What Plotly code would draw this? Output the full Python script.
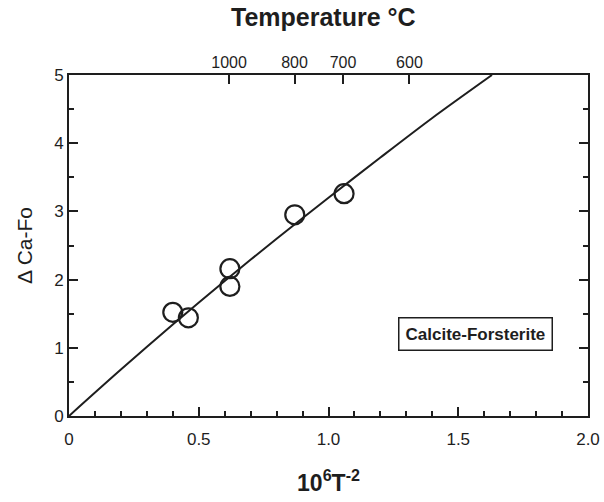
import plotly.graph_objects as go

# Data
pts_x = [0.40, 0.46, 0.62, 0.62, 0.87, 1.06]
pts_y = [1.52, 1.44, 2.16, 1.90, 2.95, 3.26]

line_x = [0, 0.2, 0.4, 0.6, 0.8, 1.0, 1.2, 1.4, 1.63]
line_y = [0, 0.68, 1.34, 1.98, 2.60, 3.20, 3.79, 4.37, 5.0]

x_tickvals = [0, 0.5, 1.0, 1.5, 2.0]
x_ticktext = ["0", "0.5", "1.0", "1.5", "2.0"]

temp_pos = [0.617, 0.869, 1.056, 1.312]
temp_labels = ["1000", "800", "700", "600"]

INK = "#1e1e1e"
FONT = "Liberation Sans, Arial, sans-serif"

fig = go.Figure()

fig.add_trace(go.Scatter(
    x=line_x, y=line_y, mode="lines",
    line=dict(color=INK, width=2, shape="spline", smoothing=0.8),
    hoverinfo="skip", showlegend=False))

fig.add_trace(go.Scatter(
    x=pts_x, y=pts_y, mode="markers",
    marker=dict(symbol="circle-open", size=19, color=INK, line=dict(width=2.2, color=INK)),
    showlegend=False))

# invisible trace to carry the top temperature axis
fig.add_trace(go.Scatter(
    x=temp_pos, y=[None] * len(temp_pos), xaxis="x2", mode="markers",
    marker=dict(opacity=0), hoverinfo="skip", showlegend=False))

fig.update_layout(
    width=604, height=502,
    margin=dict(l=69, r=16, t=75, b=86),
    paper_bgcolor="white", plot_bgcolor="white",
    font=dict(family=FONT, color=INK, size=16),
    xaxis=dict(
        range=[0, 2], tickvals=x_tickvals, ticktext=x_ticktext,
        ticks="inside", ticklen=9, tickwidth=2, tickcolor=INK,
        minor=dict(dtick=0.1, ticks="inside", ticklen=5, tickwidth=1.5, tickcolor=INK),
        showline=True, linewidth=2, linecolor=INK, mirror=True,
        showgrid=False, zeroline=False, automargin=False,
        tickfont=dict(size=17), ticklabelstandoff=7,
        title=dict(text="10<sup>6</sup>T<sup>-2</sup>", font=dict(size=23, weight="bold"), standoff=26),
    ),
    yaxis=dict(
        range=[0, 5], dtick=1,
        ticks="inside", ticklen=9, tickwidth=2, tickcolor=INK,
        minor=dict(dtick=0.5, ticks="inside", ticklen=5, tickwidth=1.5, tickcolor=INK),
        showline=True, linewidth=2, linecolor=INK, mirror="ticks",
        showgrid=False, zeroline=False, automargin=False,
        tickfont=dict(size=17),
        title=dict(text="Δ Ca-Fo", font=dict(size=21), standoff=16),
    ),
    xaxis2=dict(
        overlaying="x", side="top", anchor="y", range=[0, 2],
        tickvals=temp_pos, ticktext=temp_labels,
        ticks="inside", ticklen=9, tickwidth=2, tickcolor=INK,
        showline=False, showgrid=False, zeroline=False, automargin=False,
        tickfont=dict(size=16), ticklabelstandoff=3,
    ),
    annotations=[
        dict(text="Temperature °C", xref="paper", yref="paper", x=0.49, y=1.0,
             yshift=42, yanchor="bottom", showarrow=False,
             font=dict(size=25, weight="bold")),
        dict(text="Calcite-Forsterite", xref="x", yref="y", x=1.565, y=1.2,
             showarrow=False, font=dict(size=17, weight="bold"), bordercolor=INK,
             borderwidth=1.5, borderpad=6, bgcolor="white"),
    ],
)

fig.write_html("out.html", config={"displayModeBar": False},
               post_script="document.body.style.margin='0';")
